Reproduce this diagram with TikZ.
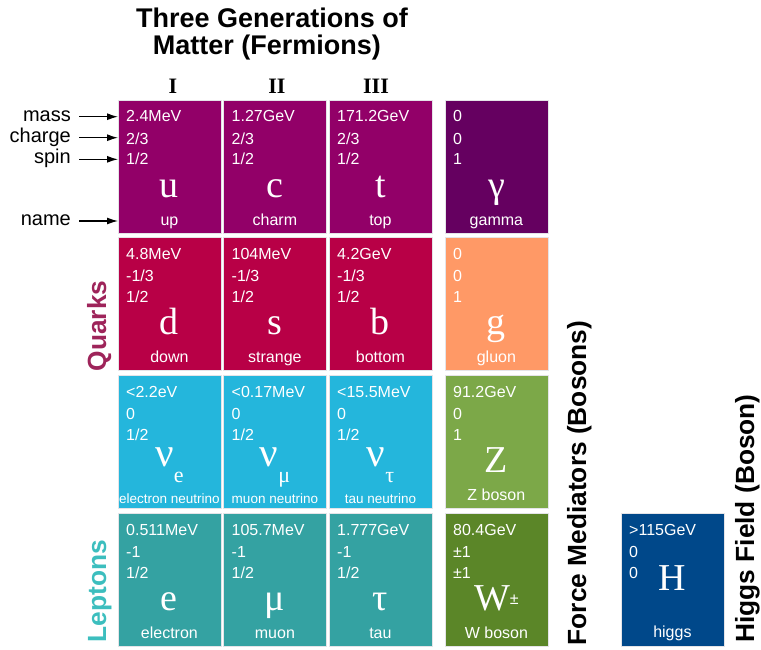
\documentclass[tikz,border=0pt]{standalone}
\usepackage{fontspec}
\setmainfont{Liberation Sans}
\newfontfamily\symfont{Liberation Serif}
\usetikzlibrary{arrows.meta}
\definecolor{quarkA}{RGB}{146,0,104}
\definecolor{gammaC}{RGB}{101,0,96}
\definecolor{quarkB}{RGB}{184,0,70}
\definecolor{gluonC}{RGB}{255,153,102}
\definecolor{neutC}{RGB}{36,182,220}
\definecolor{zC}{RGB}{124,168,72}
\definecolor{leptC}{RGB}{52,162,162}
\definecolor{wC}{RGB}{91,134,40}
\definecolor{higgsC}{RGB}{0,72,138}
\definecolor{quarksLbl}{RGB}{158,36,90}
\definecolor{leptonsLbl}{RGB}{60,190,190}
\definecolor{cellline}{RGB}{228,228,232}
\tikzset{
 cellbox/.style={rectangle, inner sep=0pt, outer sep=0pt, anchor=north west, minimum width=102.8pt, minimum height=133pt, draw=cellline, line width=0.6pt},
 val/.style={anchor=base west, inner sep=0pt, text=white, font=\fontsize{16}{18}\selectfont},
 sym/.style={anchor=base, inner sep=0pt, text=white, font=\symfont\fontsize{38}{40}\selectfont},
 pname/.style={anchor=base, inner sep=0pt, text=white, font=\fontsize{16}{18}\selectfont},
 titletext/.style={anchor=base, inner sep=0pt, font=\bfseries\fontsize{27}{30}\selectfont},
 side/.style={anchor=base, inner sep=0pt, rotate=90, font=\bfseries\fontsize{26.3}{30}\selectfont},
 lbl/.style={anchor=base east, inner sep=0pt, font=\fontsize{20}{22}\selectfont},
 arr/.style={-{Latex[length=11pt,width=7pt]}, line width=1.2pt},
 gen/.style={anchor=base, inner sep=0pt, font=\symfont\bfseries\fontsize{22}{24}\selectfont},
}
\newcommand\particle[9]{%
  \node[cellbox, fill=#4] (#1) at (#2,#3) {};
  \node[val] (#1-m) at ([shift={(8,21.5)}]#1.north west) {#5};
  \node[val] (#1-c) at ([shift={(8,44)}]#1.north west) {#6};
  \node[val] (#1-s) at ([shift={(8,64.5)}]#1.north west) {#7};
  \node[sym] (#1-x) at ([shift={(51.4,97)}]#1.north west) {#8};
  \node[pname] (#1-n) at ([shift={(51.4,125)}]#1.north west) {#9};
}
\newcommand\nusym[1]{\raisebox{6pt}{\fontsize{41}{41}\selectfont ν}\raisebox{-10pt}{\fontsize{22}{22}\selectfont #1}}
\begin{document}
\begin{tikzpicture}[x=1pt,y=-1pt]
\useasboundingbox (0,0) rectangle (761,649);
% title
\node[titletext] (t1) at (272,27.5) {Three Generations of};
\node[titletext] (t2) at (267,54) {Matter (Fermions)};
\node[gen] (g1) at (173,93) {I};
\node[gen] (g2) at (277,93) {II};
\node[gen] (g3) at (376,93) {III};
% row 1
\particle{u}{118}{100}{quarkA}{2.4MeV}{2/3}{1/2}{u}{up}
\particle{c}{223.5}{100}{quarkA}{1.27GeV}{2/3}{1/2}{c}{charm}
\particle{t}{329}{100}{quarkA}{171.2GeV}{2/3}{1/2}{t}{top}
\particle{gam}{445}{100}{gammaC}{0}{0}{1}{γ}{gamma}
% row 2
\particle{d}{118}{237.5}{quarkB}{4.8MeV}{-1/3}{1/2}{d}{down}
\particle{s}{223.5}{237.5}{quarkB}{104MeV}{-1/3}{1/2}{s}{strange}
\particle{b}{329}{237.5}{quarkB}{4.2GeV}{-1/3}{1/2}{b}{bottom}
\particle{glu}{445}{237.5}{gluonC}{0}{0}{1}{g}{gluon}
% row 3
\particle{ne}{118}{375.5}{neutC}{<2.2eV}{0}{1/2}{\nusym{e}}{}
\particle{nm}{223.5}{375.5}{neutC}{<0.17MeV}{0}{1/2}{\nusym{μ}}{}
\particle{nt}{329}{375.5}{neutC}{<15.5MeV}{0}{1/2}{\nusym{τ}}{}
\particle{Z}{445}{375.5}{zC}{91.2GeV}{0}{1}{Z}{Z boson}
\node[pname, font=\fontsize{13.5}{15}\selectfont] (ne-name) at ([shift={(51.4,128)}]ne.north west) {electron neutrino};
\node[pname, font=\fontsize{13.5}{15}\selectfont] (nm-name) at ([shift={(51.4,128)}]nm.north west) {muon neutrino};
\node[pname, font=\fontsize{13.5}{15}\selectfont] (nt-name) at ([shift={(51.4,128)}]nt.north west) {tau neutrino};
% row 4
\particle{e}{118}{513.5}{leptC}{0.511MeV}{-1}{1/2}{e}{electron}
\particle{mu}{223.5}{513.5}{leptC}{105.7MeV}{-1}{1/2}{μ}{muon}
\particle{tau}{329}{513.5}{leptC}{1.777GeV}{-1}{1/2}{τ}{tau}
\particle{W}{445}{513.5}{wC}{80.4GeV}{±1}{±1}{W\raisebox{6pt}{\fontsize{16}{16}\selectfont\rmfamily ±}}{W boson}
% higgs
\node[cellbox, fill=higgsC] (H) at (621,513.5) {};
\node[val] (H-m) at ([shift={(8,21.5)}]H.north west) {>115GeV};
\node[val] (H-c) at ([shift={(8,44)}]H.north west) {0};
\node[val] (H-s) at ([shift={(8,64.5)}]H.north west) {0};
\node[sym] (H-x) at ([shift={(51.4,77)}]H.north west) {H};
\node[pname] (H-n) at ([shift={(51.4,124)}]H.north west) {higgs};
% left labels
\node[lbl] (lmass) at (71,121) {mass};
\node[lbl] (lcharge) at (71,142.5) {charge};
\node[lbl] (lspin) at (71,163.5) {spin};
\node[lbl] (lname) at (71,225) {name};
\coordinate (amass) at (79,116.7);
\coordinate (acharge) at (79,137.7);
\coordinate (aspin) at (79,159.3);
\coordinate (aname) at (79,221);
\draw[arr] (amass) -- (amass -| u.west);
\draw[arr] (acharge) -- (acharge -| u.west);
\draw[arr] (aspin) -- (aspin -| u.west);
\draw[arr] (aname) -- (aname -| u.west);
% side labels
\node[side, text=quarksLbl] (lq) at (106,326) {Quarks};
\node[side, text=leptonsLbl] (ll) at (106,591) {Leptons};
\node[side] (lf) at (586,483) {Force Mediators (Bosons)};
\node[side] (lh) at (754,518.5) {Higgs Field (Boson)};
\end{tikzpicture}
\end{document}
